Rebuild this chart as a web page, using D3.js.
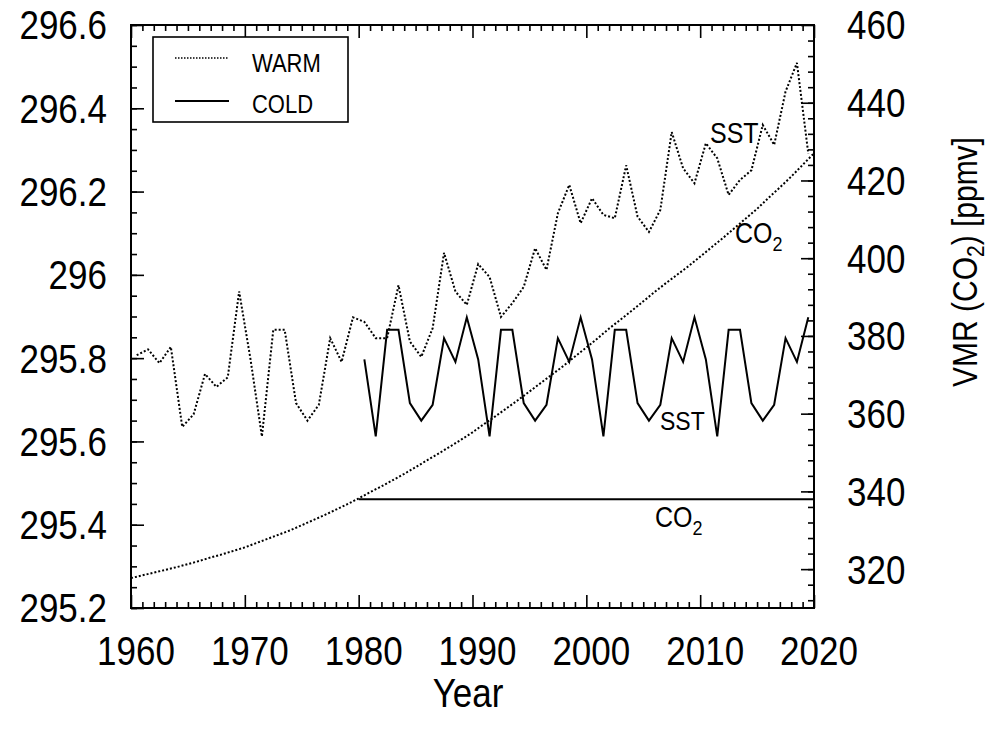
<!DOCTYPE html>
<html>
<head>
<meta charset="utf-8">
<script src="https://cdn.jsdelivr.net/npm/d3@7"></script>
<style>
body { margin: 0; background: #fff; }
text { font-family: "Liberation Sans", Arial, sans-serif; fill: #000; }
</style>
</head>
<body>
<div id="chart"></div>
<script>
// data
var sstYears = d3.range(1960.5, 2020, 1);   // annual, mid-year
var sstWarm = [295.807, 295.821, 295.788, 295.827, 295.635, 295.665, 295.762, 295.731, 295.754, 295.960,
               295.797, 295.612, 295.868, 295.868, 295.692, 295.650, 295.688, 295.848, 295.791, 295.898,
               295.887, 295.848, 295.848, 295.975, 295.840, 295.803, 295.872, 296.053, 295.960, 295.928,
               296.026, 295.995, 295.899, 295.932, 295.971, 296.064, 296.012, 296.148, 296.216, 296.124,
               296.184, 296.144, 296.136, 296.263, 296.140, 296.103, 296.156, 296.343, 296.256, 296.220,
               296.316, 296.280, 296.192, 296.228, 296.251, 296.360, 296.312, 296.440, 296.509, 296.291];
var coldYears = d3.range(1980.5, 2020, 1);
var sstCold = [295.797, 295.612, 295.868, 295.868, 295.692, 295.650, 295.688, 295.848, 295.791, 295.898,
               295.797, 295.612, 295.868, 295.868, 295.692, 295.650, 295.688, 295.848, 295.791, 295.898,
               295.797, 295.612, 295.868, 295.868, 295.692, 295.650, 295.688, 295.848, 295.791, 295.898,
               295.797, 295.612, 295.868, 295.868, 295.692, 295.650, 295.688, 295.848, 295.791, 295.898];
var co2Years = d3.range(1960, 2021, 1);
var co2Warm = [317.7, 318.4, 319.1, 319.8, 320.5, 321.3, 322.1, 323.0, 323.8, 324.7,
               325.6, 326.7, 327.8, 328.9, 330.0, 331.3, 332.6, 333.9, 335.3, 336.7,
               338.2, 339.8, 341.3, 342.9, 344.5, 346.2, 348.0, 349.7, 351.5, 353.3,
               355.2, 357.3, 359.3, 361.4, 363.5, 365.7, 367.9, 370.1, 372.3, 374.7,
               377.0, 379.4, 381.9, 384.2, 386.5, 388.9, 391.3, 393.6, 395.8, 398.0,
               400.4, 402.8, 405.2, 407.7, 410.2, 412.7, 415.5, 418.2, 421.0, 424.0, 427.0];
var co2ColdYears = [1980, 2020];
var co2Cold = [338.0, 338.0];

var xTicks = [1960, 1970, 1980, 1990, 2000, 2010, 2020];
var yLeftTicks = [295.2, 295.4, 295.6, 295.8, 296, 296.2, 296.4, 296.6];
var yRightTicks = [320, 340, 360, 380, 400, 420, 440, 460];

var width = 995, height = 729;
var L = 131, R = 814, T = 25, B = 608;
var STRETCH = 1.15;

var svg = d3.select("#chart").append("svg")
            .attr("width", width)
            .attr("height", height);

var x = d3.scaleLinear().domain([1960, 2020]).range([L, R]);
var yL = d3.scaleLinear().domain([295.2, 296.6]).range([B, T]);
var yR = d3.scaleLinear().domain([310, 460]).range([B, T]);

function noDomain(g) {
  g.select(".domain").remove();
  g.selectAll("line").attr("stroke", "#000").attr("stroke-width", 1.6);
}

var xMinor = d3.range(1961, 2020, 1).filter(function(d) { return d % 10 != 0; });
var yLMinor = d3.range(0, 29).map(function(i) { return 295.2 + i * 0.05; });
var yRMinor = d3.range(312, 460, 4);

// bottom & top ticks
svg.append("g").attr("transform", "translate(0," + B + ")")
   .call(d3.axisBottom(x).tickValues(xTicks).tickSize(-13).tickFormat("")).call(noDomain);
svg.append("g").attr("transform", "translate(0," + B + ")")
   .call(d3.axisBottom(x).tickValues(xMinor).tickSize(-6).tickFormat("")).call(noDomain);
svg.append("g").attr("transform", "translate(0," + T + ")")
   .call(d3.axisTop(x).tickValues(xTicks).tickSize(-13).tickFormat("")).call(noDomain);
svg.append("g").attr("transform", "translate(0," + T + ")")
   .call(d3.axisTop(x).tickValues(xMinor).tickSize(-6).tickFormat("")).call(noDomain);

// left ticks
svg.append("g").attr("transform", "translate(" + L + ",0)")
   .call(d3.axisLeft(yL).tickValues(yLeftTicks).tickSize(-13).tickFormat("")).call(noDomain);
svg.append("g").attr("transform", "translate(" + L + ",0)")
   .call(d3.axisLeft(yL).tickValues(yLMinor).tickSize(-6).tickFormat("")).call(noDomain);

// right ticks
svg.append("g").attr("transform", "translate(" + R + ",0)")
   .call(d3.axisRight(yR).tickValues(yRightTicks).tickSize(-13).tickFormat("")).call(noDomain);
svg.append("g").attr("transform", "translate(" + R + ",0)")
   .call(d3.axisRight(yR).tickValues(yRMinor).tickSize(-6).tickFormat("")).call(noDomain);

// frame
svg.append("rect")
   .attr("x", L).attr("y", T)
   .attr("width", R - L).attr("height", B - T)
   .attr("fill", "none")
   .attr("stroke", "#000")
   .attr("stroke-width", 2);

// stretched text helper
function label(px, py, size, anchor) {
  return svg.append("text")
            .attr("transform", "translate(" + px + "," + py + ") scale(1," + STRETCH + ")")
            .attr("font-size", size)
            .attr("text-anchor", anchor || "start");
}

var capH = 35 * 0.716 * STRETCH;

xTicks.forEach(function(d) {
  label(x(d) + 5, 665, 35, "middle").text(d);
});
yLeftTicks.forEach(function(d) {
  label(107, yL(d) + capH / 2, 35, "end").text(d3.format("~f")(d));
});
yRightTicks.forEach(function(d) {
  label(847, yR(d) + capH / 2, 35, "start").text(d);
});

label(468, 707, 35, "middle").text("Year");

var rt = svg.append("text")
            .attr("transform", "translate(977,262) rotate(-90) scale(1," + STRETCH + ")")
            .attr("font-size", 30)
            .attr("text-anchor", "middle");
rt.append("tspan").text("VMR (CO");
rt.append("tspan").attr("font-size", 21).attr("dy", 6).text("2");
rt.append("tspan").attr("dy", -6).text(") [ppmv]");

// lines
var lineL = d3.line().x(function(d) { return x(d[0]); }).y(function(d) { return yL(d[1]); });
var lineR = d3.line().x(function(d) { return x(d[0]); }).y(function(d) { return yR(d[1]); });

function dotted(path) {
  path.attr("fill", "none").attr("stroke", "#000")
      .attr("stroke-width", 2).attr("stroke-dasharray", "2,2");
}
function solid(path) {
  path.attr("fill", "none").attr("stroke", "#000").attr("stroke-width", 2);
}

svg.append("path").datum(d3.zip(sstYears, sstWarm)).attr("d", lineL).call(dotted);
svg.append("path").datum(d3.zip(co2Years, co2Warm)).attr("d", lineR).call(dotted);
svg.append("path").datum(d3.zip(coldYears, sstCold)).attr("d", lineL).call(solid);
svg.append("path").datum(d3.zip(co2ColdYears, co2Cold)).attr("d", lineR).call(solid);

// curve labels
label(710, 143, 25).text("SST");
var c1 = label(735, 243, 25);
c1.append("tspan").text("CO");
c1.append("tspan").attr("font-size", 18).attr("dy", 7).text("2");
label(660, 430, 23).text("SST");
var c2 = label(655, 527, 25);
c2.append("tspan").text("CO");
c2.append("tspan").attr("font-size", 18).attr("dy", 7).text("2");

// legend
svg.append("rect")
   .attr("x", 153).attr("y", 37)
   .attr("width", 195).attr("height", 85)
   .attr("fill", "#fff")
   .attr("stroke", "#000")
   .attr("stroke-width", 1.6);
svg.append("line").attr("x1", 175).attr("x2", 229).attr("y1", 58).attr("y2", 58)
   .attr("stroke", "#000").attr("stroke-width", 1.5).attr("stroke-dasharray", "1.5,1.5");
svg.append("line").attr("x1", 175).attr("x2", 229).attr("y1", 101).attr("y2", 101)
   .attr("stroke", "#000").attr("stroke-width", 2);
label(252, 72, 22).text("WARM");
label(252, 113, 22).text("COLD");
</script>
</body>
</html>
